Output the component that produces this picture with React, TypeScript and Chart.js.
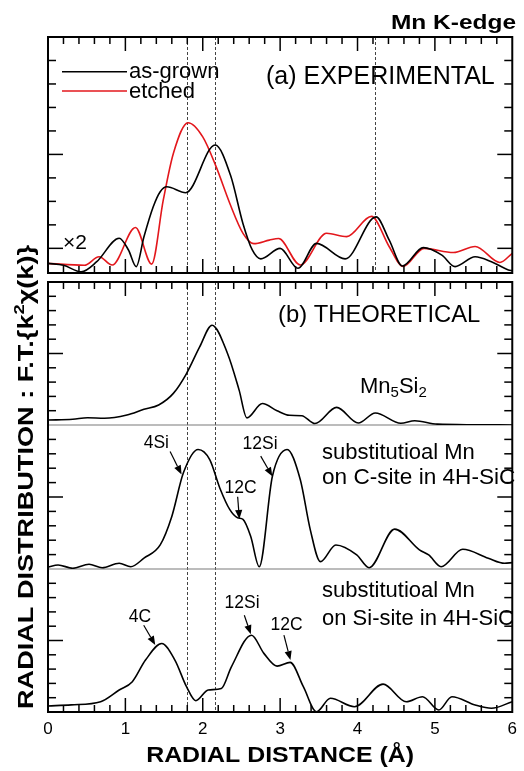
import { useEffect, useRef } from 'react';
import { Chart, registerables } from 'chart.js';

Chart.register(...registerables);

const FONT = '"Liberation Sans", Arial, Helvetica, sans-serif';

// ---------- Panel (a) EXPERIMENTAL : radial distance (Å) and F.T. magnitude (arb.) ----------
const asGrownR = [0.0, 0.2, 0.43, 0.63, 0.92, 1.04, 1.14, 1.24, 1.36, 1.45, 1.535, 1.78, 2.16, 2.36, 2.52, 2.64, 2.75, 3.0, 3.23, 3.47, 3.84, 4.24, 4.41, 4.58, 4.85, 5.09, 5.26, 5.52, 5.73, 5.95, 6.0];
const asGrownF = [-0.64, -0.72, -1.0, -0.57, 0.43, -0.07, -0.78, 0.49, 1.77, 2.41, 2.62, 2.37, 4.4, 3.1, 1.05, -0.07, -0.45, 0.0, -0.85, 0.21, -0.45, 1.34, 0.35, -0.75, 0.03, -0.29, -0.78, -0.36, -0.57, -0.92, -0.95];

const etchedR = [0.0, 0.47, 0.66, 0.83, 1.13, 1.34, 1.49, 1.62, 1.81, 2.0, 2.17, 2.35, 2.52, 2.66, 2.86, 2.98, 3.26, 3.6, 3.86, 4.18, 4.41, 4.59, 4.86, 5.24, 5.52, 5.84, 6.0];
const etchedF = [-0.64, -0.72, -0.36, -0.71, 0.89, -0.67, 2.06, 4.04, 5.35, 4.75, 3.5, 1.91, 0.64, 0.2, 0.35, 0.42, -0.71, 0.64, 0.5, 1.36, 0.07, -0.77, 0.0, -0.18, 0.08, -0.6, -0.21];

// ---------- Panel (b) THEORETICAL ----------
const mn5si2R = [0.0, 0.32, 0.51, 0.73, 1.02, 1.24, 1.43, 1.62, 1.79, 1.96, 2.12, 2.32, 2.47, 2.57, 2.77, 2.96, 3.12, 3.28, 3.45, 3.73, 4.01, 4.23, 4.56, 4.74, 5.03, 5.5, 6.0];
const mn5si2F = [0.35, 0.4, 0.51, 0.47, 0.7, 1.1, 1.4, 2.21, 3.6, 5.46, 6.98, 5.0, 2.44, 0.5, 1.5, 1.0, 0.68, 0.65, 0.1, 1.23, 0.14, 0.84, 0.12, 0.3, 0.06, 0.02, 0.0];

const cSiteR = [0.0, 0.13, 0.32, 0.53, 0.7, 0.92, 1.07, 1.24, 1.45, 1.6, 1.75, 1.94, 2.09, 2.22, 2.35, 2.45, 2.52, 2.62, 2.73, 2.9, 3.09, 3.26, 3.39, 3.52, 3.72, 3.99, 4.15, 4.48, 4.8, 4.92, 5.08, 5.36, 5.69, 5.9, 6.0];
const cSiteF = [0.12, 0.28, 0.05, 0.33, 0.09, 0.4, 0.16, 0.75, 1.67, 3.65, 6.68, 8.3, 7.6, 5.63, 4.12, 3.56, 3.45, 2.26, 0.16, 6.44, 8.3, 6.21, 2.72, 0.51, 1.67, 0.98, 0.09, 2.77, 1.33, 0.98, 0.16, 1.37, 0.75, 0.4, 0.44];

const siSiteR = [0.0, 0.3, 0.68, 0.92, 1.09, 1.26, 1.47, 1.64, 1.79, 1.91, 2.07, 2.24, 2.37, 2.63, 2.79, 2.96, 3.13, 3.3, 3.47, 3.65, 3.96, 4.33, 4.63, 4.84, 5.05, 5.22, 5.52, 5.73, 6.0];
const siSiteF = [0.42, 0.5, 0.72, 1.54, 2.12, 3.63, 4.79, 3.63, 1.77, 0.79, 1.54, 1.65, 3.16, 5.37, 4.1, 3.21, 3.47, 1.77, 0.02, 0.96, 0.37, 1.95, 0.72, 1.07, 0.14, 1.07, 0.49, 0.26, 0.72];

// ---------- axes / ticks ----------
const xTickLabels = [0, 1, 2, 3, 4, 5, 6];
const xMinorStep = 0.2;
const panelATicks = [0, 1, 2, 3, 4, 5, 6, 7, 8];
const panelAMajor = [0, 4];
const panelBTicks = [1, 2, 3, 4, 5, 6, 7, 8, 9];
const panelBMajor = [5];
const panelADashes = [1.79, 2.16, 4.23];
const panelBDashes = [1.79, 2.16];

// ---------- annotations (label at lx,ly; arrow from fx,fy to tx,ty) ----------
const cSiteNotes = [
  { text: '4Si', lx: 1.237, ly: 8.37, fx: 1.578, fy: 8.16, tx: 1.726, ty: 6.56 },
  { text: '12C', lx: 2.281, ly: 5.28, fx: 2.451, fy: 5.02, tx: 2.473, ty: 3.47 },
  { text: '12Si', lx: 2.515, ly: 8.3, fx: 2.749, fy: 7.84, tx: 2.899, ty: 6.44 },
];
const siSiteNotes = [
  { text: '4C', lx: 1.045, ly: 6.3, fx: 1.237, fy: 6.07, tx: 1.386, ty: 4.68 },
  { text: '12Si', lx: 2.281, ly: 7.24, fx: 2.537, fy: 6.77, tx: 2.621, ty: 5.44 },
  { text: '12C', lx: 2.877, ly: 5.72, fx: 3.049, fy: 5.37, tx: 3.133, ty: 3.63 },
];

const pts = (r: number[], f: number[]) => r.map((x, i) => ({ x, y: f[i] }));

function line(ctx: CanvasRenderingContext2D, x1: number, y1: number, x2: number, y2: number) {
  ctx.beginPath();
  ctx.moveTo(x1, y1);
  ctx.lineTo(x2, y2);
  ctx.stroke();
}

function fitText(ctx: CanvasRenderingContext2D, text: string, x: number, y: number, font: string, width: number, align: CanvasTextAlign) {
  ctx.save();
  ctx.font = font;
  const w = ctx.measureText(text).width;
  ctx.translate(x, y);
  ctx.scale(width / w, 1);
  ctx.textAlign = align;
  ctx.textBaseline = 'alphabetic';
  ctx.fillText(text, 0, 0);
  ctx.restore();
}

// text drawn with a horizontal correction k so that the installed face has Arial-like widths
function kText(ctx: CanvasRenderingContext2D, k: number, text: string, x: number, y: number, size: number) {
  ctx.save();
  ctx.font = `${size}px ${FONT}`;
  ctx.translate(x, y);
  ctx.scale(k, 1);
  ctx.textAlign = 'left';
  ctx.textBaseline = 'alphabetic';
  ctx.fillText(text, 0, 0);
  const w = ctx.measureText(text).width * k;
  ctx.restore();
  return w;
}

function arrow(ctx: CanvasRenderingContext2D, x1: number, y1: number, x2: number, y2: number) {
  const a = Math.atan2(y2 - y1, x2 - x1);
  const hl = 9;
  const hw = 3.6;
  const bx = x2 - hl * Math.cos(a);
  const by = y2 - hl * Math.sin(a);
  ctx.lineWidth = 1.2;
  line(ctx, x1, y1, bx, by);
  ctx.beginPath();
  ctx.moveTo(x2, y2);
  ctx.lineTo(bx + hw * Math.sin(a), by - hw * Math.cos(a));
  ctx.lineTo(bx - hw * Math.sin(a), by + hw * Math.cos(a));
  ctx.closePath();
  ctx.fill();
}

const decor = {
  id: 'decor',
  beforeDatasetsDraw(chart: any) {
    const { ctx, chartArea, scales } = chart;
    const x = scales.x;
    const ya = scales.ya;
    const y1 = scales.yb1;
    const y2 = scales.yb2;
    const y3 = scales.yb3;
    ctx.save();
    ctx.strokeStyle = '#444';
    ctx.lineWidth = 1;
    ctx.setLineDash([3, 2]);
    for (const v of panelADashes) {
      const px = Math.round(x.getPixelForValue(v)) + 0.5;
      line(ctx, px, ya.top, px, ya.bottom);
    }
    for (const v of panelBDashes) {
      const px = Math.round(x.getPixelForValue(v)) + 0.5;
      line(ctx, px, y1.top, px, y3.bottom);
    }
    ctx.setLineDash([]);
    ctx.strokeStyle = '#7a7a7a';
    ctx.lineWidth = 1.2;
    line(ctx, chartArea.left, y1.bottom, chartArea.right, y1.bottom);
    line(ctx, chartArea.left, y2.bottom, chartArea.right, y2.bottom);
    ctx.restore();
  },
  afterDatasetsDraw(chart: any) {
    const { ctx, chartArea, scales } = chart;
    const x = scales.x;
    const ya = scales.ya;
    const y1 = scales.yb1;
    const y2 = scales.yb2;
    const y3 = scales.yb3;
    const L = chartArea.left;
    const R = chartArea.right;
    ctx.save();
    ctx.strokeStyle = '#000';
    ctx.fillStyle = '#000';

    // width correction so text matches Arial/Helvetica proportions
    ctx.font = `22px ${FONT}`;
    const k = (6.947 * 22) / ctx.measureText('substitutioal Mn').width;

    // x ticks (inward) on top & bottom of both panels
    const xEdges = [
      [ya.top, 1], [ya.bottom, -1], [y1.top, 1], [y3.bottom, -1],
    ];
    ctx.lineWidth = 1.5;
    const nMinor = Math.round((x.max - x.min) / xMinorStep);
    for (let i = 1; i < nMinor; i++) {
      const v = x.min + i * xMinorStep;
      const major = Math.abs(v - Math.round(v)) < 1e-6;
      const len = major ? 14 : 7;
      const px = x.getPixelForValue(v);
      for (const [ey, dir] of xEdges) line(ctx, px, ey, px, ey + dir * len);
    }
    // y ticks panel a
    for (const v of panelATicks) {
      const py = ya.getPixelForValue(v);
      const len = panelAMajor.includes(v) ? 15 : 8;
      line(ctx, L, py, L + len, py);
      line(ctx, R, py, R - len, py);
    }
    // y ticks panel b
    for (const s of [y1, y2, y3]) {
      for (const v of panelBTicks) {
        const py = s.getPixelForValue(v);
        const len = panelBMajor.includes(v) ? 15 : 8;
        line(ctx, L, py, L + len, py);
        line(ctx, R, py, R - len, py);
      }
    }
    // frames
    ctx.lineWidth = 2;
    ctx.strokeRect(L, ya.top, R - L, ya.bottom - ya.top);
    ctx.strokeRect(L, y1.top, R - L, y3.bottom - y1.top);

    // legend (panel a)
    const ds = chart.data.datasets;
    const legendY = [71.7, 91];
    const legendBase = [77.5, 98];
    for (let i = 0; i < 2; i++) {
      ctx.strokeStyle = ds[i].borderColor;
      ctx.lineWidth = 1.6;
      line(ctx, 62, legendY[i], 127, legendY[i]);
      ctx.fillStyle = '#000';
      kText(ctx, k, ds[i].label, 129, legendBase[i], 22);
    }
    ctx.fillStyle = '#000';
    ctx.strokeStyle = '#000';
    kText(ctx, k, '(a) EXPERIMENTAL', 266, 83.5, 25);
    kText(ctx, k, '×2', 63, 249, 21);
    kText(ctx, k, '(b) THEORETICAL', 278, 322, 23.8);

    // Mn5Si2
    let cx = 360;
    const parts: [string, boolean][] = [['Mn', false], ['5', true], ['Si', false], ['2', true]];
    for (const [t, sub] of parts) {
      cx += kText(ctx, k, t, cx, sub ? 397 : 392.5, sub ? 15 : 22);
    }
    kText(ctx, k, 'substitutioal Mn', 322, 459, 22);
    kText(ctx, k, 'on C-site in 4H-SiC', 322, 484, 22.6);
    kText(ctx, k, 'substitutioal Mn', 322, 597, 22);
    kText(ctx, k, 'on Si-site in 4H-SiC', 322, 625, 22);

    // arrows + labels
    const drawNotes = (notes: typeof cSiteNotes, s: any) => {
      for (const n of notes) {
        kText(ctx, k, n.text, x.getPixelForValue(n.lx), s.getPixelForValue(n.ly), 17.5);
        arrow(ctx, x.getPixelForValue(n.fx), s.getPixelForValue(n.fy), x.getPixelForValue(n.tx), s.getPixelForValue(n.ty));
      }
    };
    drawNotes(cSiteNotes, y2);
    drawNotes(siSiteNotes, y3);

    // titles
    fitText(ctx, 'Mn K-edge', 516, 28.5, `bold 21px ${FONT}`, 125, 'right');
    fitText(ctx, 'RADIAL DISTANCE (Å)', (L + R) / 2, 761.5, `bold 22px ${FONT}`, 268, 'center');

    // y title rotated
    const segs: [string, boolean][] = [['RADIAL DISTRIBUTION : F.T.{k', false], ['2', true], ['χ(k)}', false]];
    const mainF = `bold 22px ${FONT}`;
    const supF = `bold 15px ${FONT}`;
    let total = 0;
    const widths: number[] = [];
    for (const [t, sup] of segs) {
      ctx.font = sup ? supF : mainF;
      const w = ctx.measureText(t).width;
      widths.push(w);
      total += w;
    }
    const yStart = y3.bottom - 3;
    const yEnd = 245;
    ctx.save();
    ctx.translate(33, yStart);
    ctx.rotate(-Math.PI / 2);
    ctx.scale((yStart - yEnd) / total, 1);
    ctx.textAlign = 'left';
    let off = 0;
    segs.forEach(([t, sup], i) => {
      ctx.font = sup ? supF : mainF;
      ctx.fillText(t, off, sup ? -9 : 0);
      off += widths[i];
    });
    ctx.restore();

    ctx.restore();
  },
};

export default function App() {
  const ref = useRef<HTMLCanvasElement>(null);
  useEffect(() => {
    if (!ref.current) return;
    const lineDs = (label: string, r: number[], f: number[], color: string, yAxisID: string) => ({
      label,
      data: pts(r, f),
      borderColor: color,
      backgroundColor: color,
      borderWidth: 1.6,
      pointRadius: 0,
      fill: false,
      cubicInterpolationMode: 'monotone' as const,
      yAxisID,
    });
    const yStack = (min: number, max: number, w: number, weight: number) => ({
      type: 'linear' as const,
      position: 'left' as const,
      stack: 'panels',
      stackWeight: w,
      weight,
      min,
      max,
      offset: false,
      grid: { display: false, drawTicks: false },
      border: { display: false },
      ticks: { display: false },
    });
    const chart = new Chart(ref.current, {
      type: 'line',
      data: {
        datasets: [
          lineDs('as-grown', asGrownR, asGrownF, '#000000', 'ya'),
          lineDs('etched', etchedR, etchedF, '#e3171c', 'ya'),
          lineDs('Mn5Si2', mn5si2R, mn5si2F, '#000000', 'yb1'),
          lineDs('C-site', cSiteR, cSiteF, '#000000', 'yb2'),
          lineDs('Si-site', siSiteR, siSiteF, '#000000', 'yb3'),
        ],
      },
      options: {
        responsive: false,
        animation: false,
        devicePixelRatio: 1,
        events: [],
        font: { family: FONT },
        layout: { padding: { left: 48, right: 6, top: 37, bottom: 24.6 } },
        plugins: { legend: { display: false }, tooltip: { enabled: false } },
        scales: {
          x: {
            type: 'linear',
            min: 0,
            max: 6,
            offset: false,
            grid: { display: false, drawTicks: false },
            border: { display: false },
            afterBuildTicks: (s: any) => {
              s.ticks = xTickLabels.map((v) => ({ value: v }));
            },
            ticks: { color: '#000', font: { family: FONT, size: 17 }, padding: 7, autoSkip: false, maxRotation: 0 },
          },
          ya: yStack(-1.05, 9, 236, 5),
          gap: yStack(0, 1, 9, 4),
          yb1: yStack(0, 10, 143, 3),
          yb2: yStack(0, 10, 144, 2),
          yb3: yStack(0, 10, 143, 1),
        },
      },
      plugins: [decor],
    } as any);
    return () => chart.destroy();
  }, []);
  return (
    <canvas
      ref={ref}
      width={524}
      height={771}
      style={{ position: 'absolute', left: 0, top: 0, width: 524, height: 771, display: 'block' }}
    />
  );
}
